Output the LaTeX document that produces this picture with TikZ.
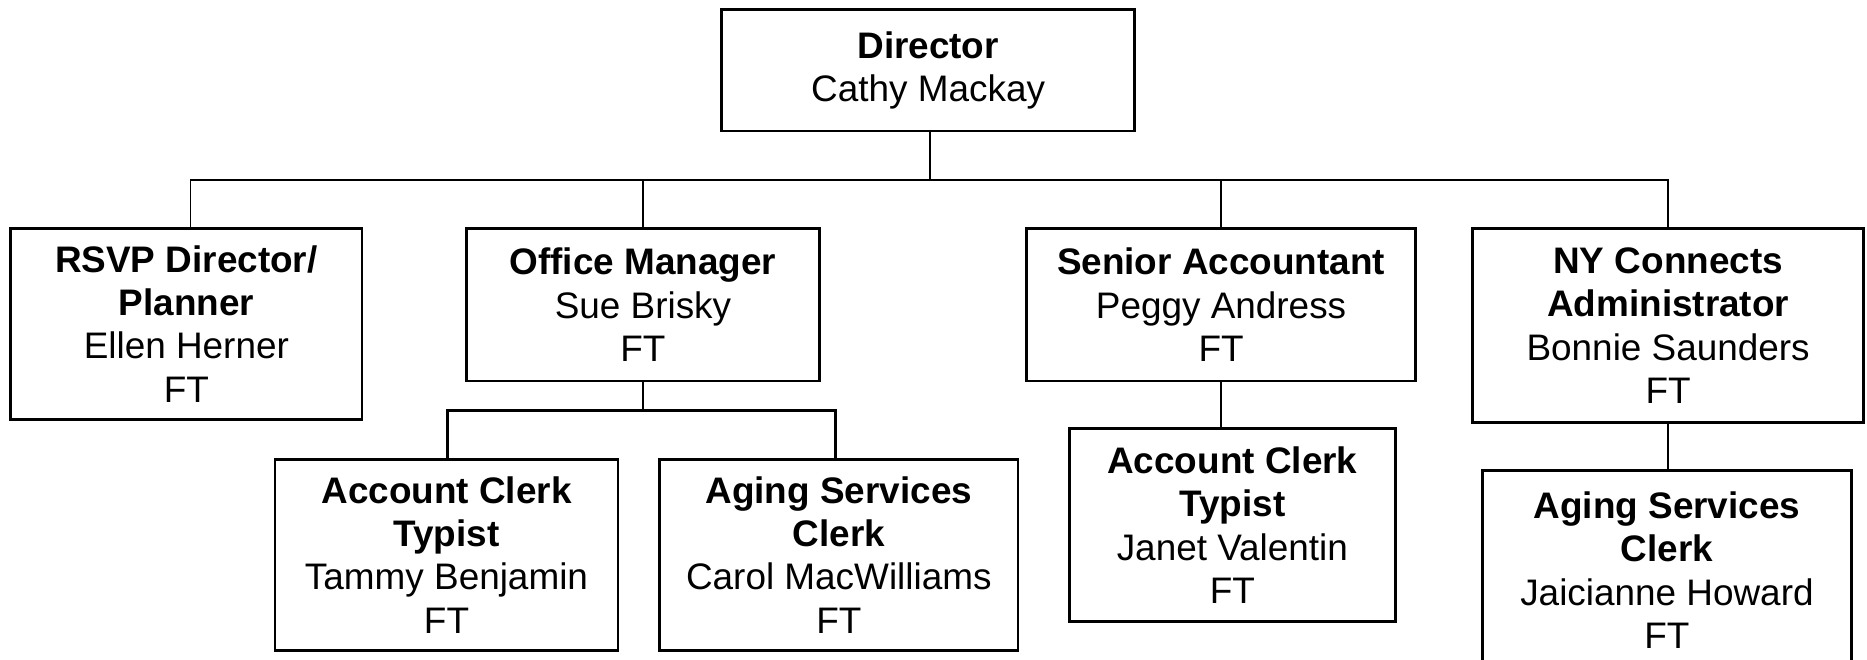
\documentclass[tikz,border=0pt]{standalone}
\usepackage{fontspec}
\setmainfont{Liberation Sans}
\begin{document}
\begin{tikzpicture}[x=1pt,y=1pt,
  box/.style={draw=black, line width=2.4pt, fill=white, inner sep=0pt, align=center,
    font=\fontsize{31}{36.5}\selectfont},
  thin/.style={line width=1.4pt},
  thickline/.style={line width=2.4pt}]
\useasboundingbox (0,0) rectangle (1568,-554);
\coordinate (bus) at (0,-151);
\coordinate (sub) at (0,-345);
\node[box, minimum width=347pt, minimum height=102pt] (dir) at (779.5,-59) {\textbf{Director}\\Cathy Mackay};
\node[box, minimum width=295pt, minimum height=160pt] (rsvp) at (156.5,-272) {\textbf{RSVP Director/}\\\textbf{Planner}\\Ellen Herner\\FT};
\node[box, minimum width=296pt, minimum height=128pt] (off) at (540,-256) {\textbf{Office Manager}\\Sue Brisky\\FT};
\node[box, minimum width=327pt, minimum height=128pt] (sen) at (1025.5,-256) {\textbf{Senior Accountant}\\Peggy Andress\\FT};
\node[box, minimum width=328pt, minimum height=163pt] (ny) at (1401,-273.5) {\textbf{NY Connects}\\\textbf{Administrator}\\Bonnie Saunders\\FT};
\node[box, minimum width=288pt, minimum height=160pt] (act1) at (375,-466) {\textbf{Account Clerk}\\\textbf{Typist}\\Tammy Benjamin\\FT};
\node[box, minimum width=301pt, minimum height=160pt] (ags1) at (704.5,-466) {\textbf{Aging Services}\\\textbf{Clerk}\\Carol MacWilliams\\FT};
\node[box, minimum width=274pt, minimum height=162pt] (act2) at (1035,-441) {\textbf{Account Clerk}\\\textbf{Typist}\\Janet Valentin\\FT};
\node[box, minimum width=310pt, minimum height=168pt] (ags2) at (1400,-479) {\textbf{Aging Services}\\\textbf{Clerk}\\Jaicianne Howard\\FT};
% top bus
\draw[thin] ([xshift=1.5pt]dir.south) -- ([xshift=1.5pt]dir.south |- bus);
\draw[thin] ([xshift=3.5pt]rsvp.north) -- ([xshift=3.5pt]rsvp.north |- bus) -- (ny.north |- bus) -- (ny.north);
\draw[thin] (off.north) -- (off.north |- bus);
\draw[thin] (sen.north) -- (sen.north |- bus);
% office manager subordinates
\draw[thickline] (off.south) -- (off.south |- sub);
\draw[thickline] ([xshift=1pt]act1.north) -- ([xshift=1pt]act1.north |- sub) -- ([xshift=-2.5pt]ags1.north |- sub) -- ([xshift=-2.5pt]ags1.north);
% senior accountant
\draw[thin] (sen.south) -- (sen.south |- act2.north);
% NY connects
\draw[thin] (ny.south) -- (ny.south |- ags2.north);
\end{tikzpicture}
\end{document}
